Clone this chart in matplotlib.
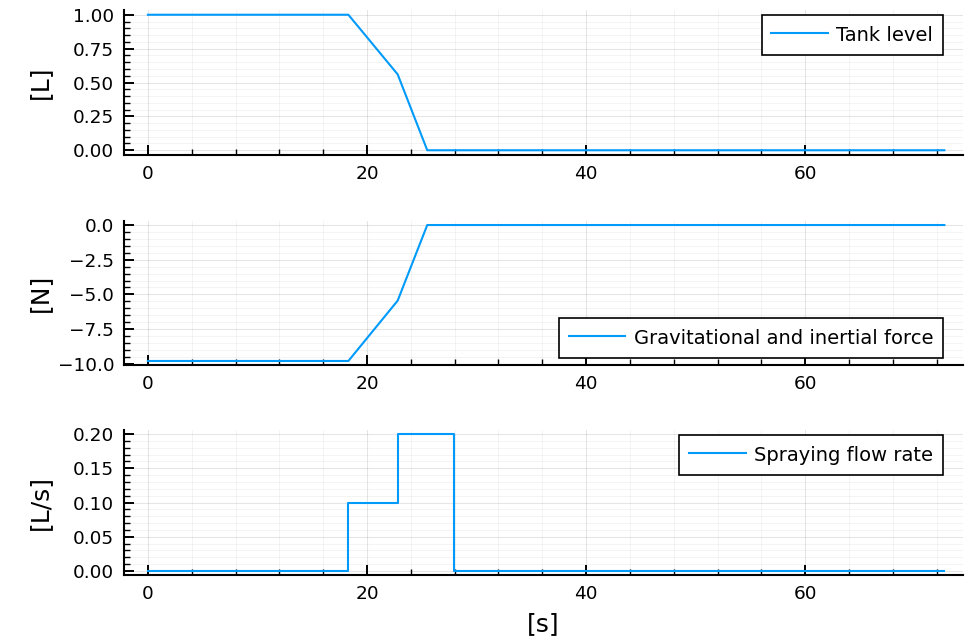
import numpy as np
import matplotlib
matplotlib.use("Agg")
import matplotlib.pyplot as plt
from matplotlib.ticker import MultipleLocator, AutoMinorLocator, FuncFormatter

# values
t = [0.0, 18.3, 22.8, 25.5, 27.9, 72.7]
tank_level = [1.0, 1.0, 0.56, 0.0, 0.0, 0.0]
force = [-9.8, -9.8, -5.45, 0.0, 0.0, 0.0]
flow_rate = [0.0, 0.1, 0.2, 0.2, 0.0, 0.0]

blue = "#009AFA"
fs_tick = 13.3
fs_leg = 14
fs_label = 18

W, H = 965, 644
fig = plt.figure(figsize=(W / 100, H / 100), dpi=100)
left, width = 124 / W, 839 / W
boxes = [
    (left, 489 / H, width, 145 / H),
    (left, 279 / H, width, 144 / H),
    (left, 69 / H, width, 145 / H),
]
axes = [fig.add_axes(b) for b in boxes]


def fmt(digits):
    return FuncFormatter(lambda v, p: f"{v:.{digits}f}".replace("-", "\u2212"))


def style(ax, ymaj, digits):
    for s in ("top", "right"):
        ax.spines[s].set_visible(False)
    for s in ("left", "bottom"):
        ax.spines[s].set_linewidth(1.5)
    ax.xaxis.set_major_locator(MultipleLocator(20))
    ax.xaxis.set_minor_locator(AutoMinorLocator(5))
    ax.yaxis.set_major_locator(MultipleLocator(ymaj))
    ax.yaxis.set_minor_locator(AutoMinorLocator(5))
    ax.yaxis.set_major_formatter(fmt(digits))
    ax.tick_params(which="major", direction="in", length=7, width=1.4,
                   labelsize=fs_tick, pad=7)
    ax.tick_params(which="minor", direction="in", length=4, width=1.0)
    ax.grid(which="major", color="black", alpha=0.1, lw=0.8)
    ax.grid(which="minor", color="black", alpha=0.05, lw=0.6)
    ax.set_axisbelow(True)
    ax.set_xlim(-2.18, 74.4)
    ax.yaxis.set_label_coords(-0.086, 0.5)


def legend(ax, loc, x, y):
    lg = ax.legend(loc=loc, bbox_to_anchor=(x / W, 1 - y / H),
                   bbox_transform=fig.transFigure, fontsize=fs_leg,
                   frameon=True, fancybox=False, framealpha=1,
                   handlelength=2.9, handleheight=1.15, handletextpad=0.45,
                   borderpad=0.5, borderaxespad=0)
    lg.get_frame().set_edgecolor("black")
    lg.get_frame().set_linewidth(1.2)


ax = axes[0]
ax.plot(t, tank_level, color=blue, lw=1.5, label="Tank level")
style(ax, 0.25, 2)
ax.set_ylim(-0.035, 1.035)
ax.set_ylabel("[L]", fontsize=fs_label)
legend(ax, "upper right", 943, 15)

ax = axes[1]
ax.plot(t, force, color=blue, lw=1.5, label="Gravitational and inertial force")
style(ax, 2.5, 1)
ax.set_ylim(-10.09, 0.29)
ax.set_ylabel("[N]", fontsize=fs_label)
legend(ax, "lower right", 943, 358)

ax = axes[2]
ax.step(t, flow_rate, where="post", color=blue, lw=1.5, label="Spraying flow rate")
style(ax, 0.05, 2)
ax.set_ylim(-0.006, 0.206)
ax.set_ylabel("[L/s]", fontsize=fs_label)
ax.set_xlabel("[s]", fontsize=fs_label, labelpad=7)
legend(ax, "upper right", 943, 435)

fig.savefig("out.png", dpi=100)
